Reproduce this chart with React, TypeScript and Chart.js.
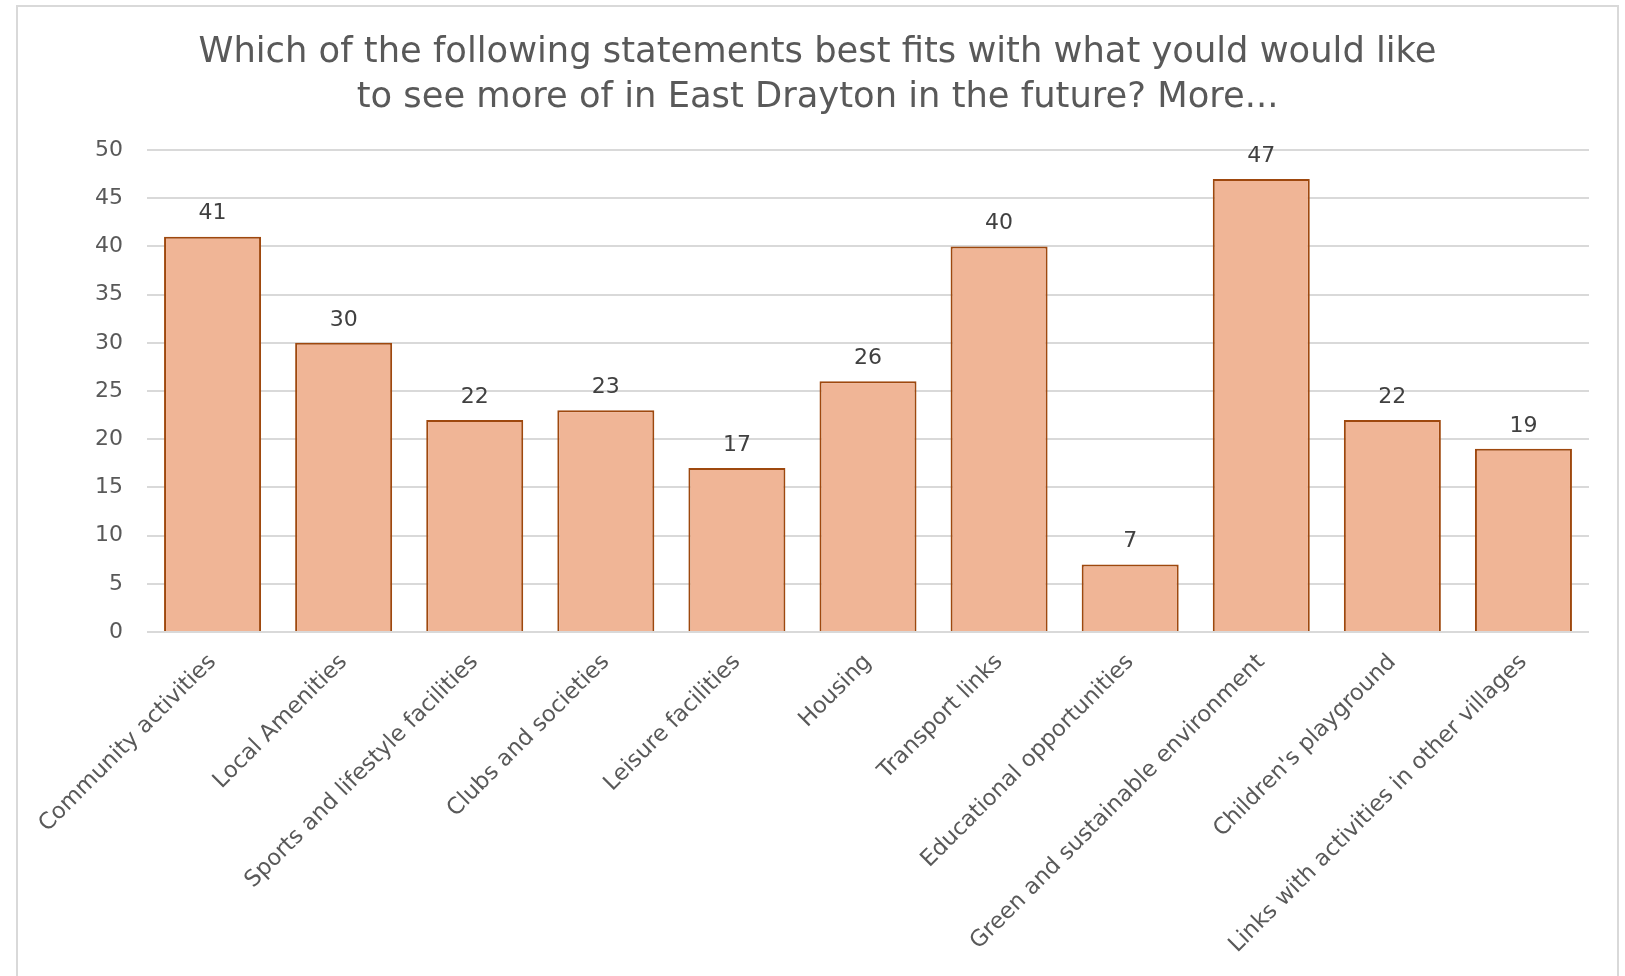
import React, { useEffect, useRef } from "react";
import { Chart, registerables } from "chart.js";

Chart.register(...registerables);

const titleLines = [
  "Which of the following statements best fits with what yould would like",
  "to see more of in East Drayton in the future? More...",
];

const categories = [
  "Community activities",
  "Local Amenities",
  "Sports and lifestyle facilities",
  "Clubs and societies",
  "Leisure facilities",
  "Housing",
  "Transport links",
  "Educational opportunities",
  "Green and sustainable environment",
  "Children's playground",
  "Links with activities in other villages",
];

const values = [41, 30, 22, 23, 17, 26, 40, 7, 47, 22, 19];

const yMin = 0;
const yMax = 50;
const yStep = 5;

const FONT = "'DejaVu Sans', sans-serif";
const TEXT = "#595959";

const dataLabelPlugin = {
  id: "dataLabels",
  afterDatasetsDraw(chart: any) {
    const ctx = chart.ctx;
    const meta = chart.getDatasetMeta(0);
    ctx.save();
    ctx.font = `22px ${FONT}`;
    ctx.fillStyle = "#404040";
    ctx.textAlign = "center";
    ctx.textBaseline = "middle";
    meta.data.forEach((bar: any, i: number) => {
      ctx.fillText(String(values[i]), bar.x, bar.y - 23);
    });
    ctx.restore();
  },
};

export default function App() {
  const ref = useRef<HTMLCanvasElement | null>(null);
  useEffect(() => {
    if (!ref.current) return;
    const chart = new Chart(ref.current, {
      type: "bar",
      data: {
        labels: categories,
        datasets: [
          {
            data: values,
            backgroundColor: "#F0B596",
            borderColor: "#9E480E",
            borderWidth: 2,
            categoryPercentage: 1,
            barPercentage: 0.74,
          },
        ],
      },
      options: {
        responsive: false,
        animation: false,
        devicePixelRatio: 1,
        layout: { padding: { left: 28, right: 28, top: 0, bottom: 0 } },
        plugins: {
          legend: { display: false },
          tooltip: { enabled: false },
          title: {
            display: true,
            text: titleLines,
            color: TEXT,
            font: { family: FONT, size: 35.3, weight: "normal", lineHeight: 45 / 35.3 },
            padding: { top: 30.5, bottom: 29.5 },
          },
        },
        scales: {
          x: {
            grid: { display: false, drawTicks: false },
            border: { display: false },
            ticks: {
              color: TEXT,
              font: { family: FONT, size: 22.6 },
              minRotation: 45,
              maxRotation: 45,
              autoSkip: false,
              padding: 17,
            },
            afterFit(scale: any) {
              scale.height = 976 - 632;
            },
          },
          y: {
            min: yMin,
            max: yMax,
            grid: { color: "#D9D9D9", lineWidth: 2, drawTicks: false },
            border: { display: false },
            ticks: {
              stepSize: yStep,
              color: TEXT,
              font: { family: FONT, size: 22 },
              padding: 24,
            },
            afterFit(scale: any) {
              scale.width = 147 - 18 - 28;
            },
          },
        },
      },
      plugins: [dataLabelPlugin],
    });
    return () => chart.destroy();
  }, []);

  return (
    <div>
      <div
        style={{
          position: "absolute",
          left: 16,
          top: 5,
          width: 1603,
          height: 971,
          boxSizing: "border-box",
          border: "2px solid #D9D9D9",
          borderBottom: "none",
        }}
      />
      <canvas
        ref={ref}
        width={1599}
        height={976}
        style={{ position: "absolute", left: 18, top: 0, width: 1599, height: 976 }}
      />
    </div>
  );
}
